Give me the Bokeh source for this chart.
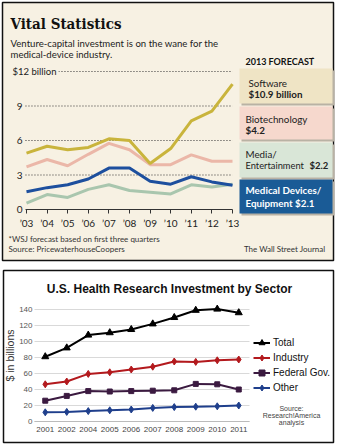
from bokeh.plotting import figure
from bokeh.layouts import column
from bokeh.models import (Range1d, FixedTicker, Label, BoxAnnotation, Legend, LegendItem)
from bokeh.embed import file_html
from bokeh.resources import INLINE

# ---------------- Top chart data (WSJ, $ billion) ----------------
years = [2003, 2004, 2005, 2006, 2007, 2008, 2009, 2010, 2011, 2012, 2013]
year_labels = ["’03", "’04", "’05", "’06", "’07", "’08", "’09", "’10", "’11", "’12", "’13"]
software = [4.9, 5.5, 5.2, 5.4, 6.15, 6.0, 4.0, 5.3, 7.7, 8.55, 10.9]
biotech = [3.7, 4.35, 3.8, 4.8, 5.75, 5.2, 3.9, 3.9, 4.75, 4.2, 4.2]
media = [0.55, 1.3, 1.05, 1.75, 2.15, 1.65, 1.5, 1.35, 2.15, 1.95, 2.2]
medical = [1.55, 1.9, 2.15, 2.65, 3.6, 3.6, 2.45, 2.2, 2.85, 2.4, 2.1]
top_yticks = [0, 3, 6, 9]
top_ygrid = [3, 6, 9, 12]

# ---------------- Bottom chart data ($ in billions) ----------------
bot_years = ["2001", "2002", "2004", "2005", "2006", "2007", "2008", "2009", "2010", "2011"]
total = [81, 92, 108, 111, 115, 122, 130, 139, 140.5, 136]
industry = [46.5, 50, 59.5, 61.5, 65, 68.5, 75, 74.5, 76.5, 77.5]
federal = [26, 32, 38, 37.5, 38, 38.5, 39, 47, 46.5, 40]
other = [11.5, 12, 13, 14, 15, 17, 18, 18.5, 19, 20]
bot_yticks = [0, 20, 40, 60, 80, 100, 120, 140]

CREAM = "#f7f1e3"
FONT = "Lato"
W = 339


def make_label(p, H, cx, cy, text, size, color="#222222", bold=False, font=FONT,
               align="left", baseline="middle", **kw):
    lab = Label(x=cx, y=H - cy, x_units="screen", y_units="screen", text=text,
                text_font=font, text_font_size=f"{size}px", text_color=color,
                text_font_style="bold" if bold else "normal",
                text_align=align, text_baseline=baseline, **kw)
    p.add_layout(lab)
    return lab


def make_box(p, H, x0, y0, x1, y1, fill=None, line=None, lw=1.0, level="annotation"):
    b = BoxAnnotation(left=x0, right=x1, top=H - y0, bottom=H - y1,
                      left_units="screen", right_units="screen",
                      top_units="screen", bottom_units="screen",
                      fill_color=fill, fill_alpha=1.0 if fill else 0.0,
                      line_color=line, line_width=lw, line_alpha=1.0 if line else 0.0,
                      level=level)
    p.add_layout(b)
    return b


def style_axis(ax, font, size, color, standoff):
    ax.major_label_text_font = font
    ax.major_label_text_font_size = f"{size}px"
    ax.major_label_text_color = color
    ax.major_label_standoff = standoff
    ax.minor_tick_line_color = None


# ====================== TOP FIGURE ======================
H1 = 264
XPX1, X0PIX1 = 20.6, 26.0      # pixels per year, pixel of first year
YPX1, Y0PIX1 = 11.5, 209.0     # pixels per $bn, pixel of zero
x_lo = years[0] - 0.05
p1 = figure(width=W, height=H1,
            x_range=Range1d(years[0] - X0PIX1 / XPX1, years[0] + (W - X0PIX1) / XPX1),
            y_range=Range1d(-(H1 - Y0PIX1) / YPX1, Y0PIX1 / YPX1),
            output_backend="svg", toolbar_location=None,
            min_border=0, background_fill_color="white", border_fill_color="white",
            outline_line_color=None)
p1.grid.visible = False

# panel background + border
make_box(p1, H1, 2, 2, 333, 260, fill=CREAM, line="#111111", lw=1.5, level="underlay")

p1.yaxis.fixed_location = x_lo
p1.yaxis.ticker = FixedTicker(ticks=top_yticks)
p1.yaxis.axis_line_color = None
p1.yaxis.major_tick_line_color = None
p1.yaxis.major_tick_out = 0
style_axis(p1.yaxis, FONT, 10, "#222222", 3)

p1.xaxis.fixed_location = 0
p1.xaxis.bounds = (x_lo, years[-1])
p1.xaxis.ticker = FixedTicker(ticks=years)
p1.xaxis.major_label_overrides = {y: l for y, l in zip(years, year_labels)}
p1.xaxis.axis_line_color = "#333333"
p1.xaxis.major_tick_line_color = "#333333"
p1.xaxis.major_tick_out = 4
p1.xaxis.major_tick_in = 0
style_axis(p1.xaxis, FONT, 10, "#222222", 3)

# dotted gridlines up to the last year
p1.segment(x0=[x_lo] * len(top_ygrid), x1=[years[-1]] * len(top_ygrid),
           y0=top_ygrid, y1=top_ygrid, line_color="#333333", line_dash="1 2", line_width=1)

p1.line(years, media, line_color="#a9c6ae", line_width=3)
p1.line(years, medical, line_color="#1d4f9e", line_width=3)
p1.line(years, biotech, line_color="#ebb7a8", line_width=3)
p1.line(years, software, line_color="#c9b43c", line_width=3)

# headline texts
make_label(p1, H1, 10, 23, "Vital Statistics", 15, color="#111111", bold=True,
           font="DejaVu Serif Condensed")
make_label(p1, H1, 10, 43, "Venture-capital investment is on the wane for the", 9.6)
make_label(p1, H1, 10, 53.5, "medical-device industry.", 9.6)
make_label(p1, H1, 10, 71, "$12 billion", 9.5, background_fill_color=CREAM, padding=2)

# forecast legend boxes
make_label(p1, H1, 245, 61, "2013 FORECAST", 9, bold=True, color="#111111")
make_label(p1, H1, 311, 58, "*", 6, color="#111111")

box_specs = [
    (68, 103, "#efe4c5"),
    (106, 139, "#f6d8cd"),
    (142, 177, "#d9e6d7"),
    (179, 213, "#1a5b96"),
]
for y0, y1, col in box_specs:
    make_box(p1, H1, 241, y0 + 2, 334, y1 + 2, fill="#b9b2a4")
    make_box(p1, H1, 239, y0, 332, y1, fill=col)

BS = 9.8
make_label(p1, H1, 248, 82, "Software", BS)
make_label(p1, H1, 248, 93, "$10.9 billion", BS, bold=True)
make_label(p1, H1, 245, 118, "Biotechnology", BS)
make_label(p1, H1, 245, 129.5, "$4.2", BS, bold=True)
make_label(p1, H1, 245, 153, "Media/", BS)
make_label(p1, H1, 245, 165, "Entertainment", 9.3)
make_label(p1, H1, 309, 165, "$2.2", 9.5, bold=True)
make_label(p1, H1, 245, 189, "Medical Devices/", 9.8, bold=True, color="white")
make_label(p1, H1, 245, 202.5, "Equipment $2.1", 9.8, bold=True, color="white")

# footer
make_label(p1, H1, 8, 238, "*WSJ forecast based on first three quarters", 8, color="#333333")
make_label(p1, H1, 8, 248, "Source: PricewaterhouseCoopers", 8, color="#333333")
make_label(p1, H1, 325, 248, "The Wall Street Journal", 8, color="#333333", align="right")

# ====================== BOTTOM FIGURE ======================
H2 = 182
BF = "Liberation Sans"
XPX2, X0PIX2 = 21.5, 44.75     # pixels per category, pixel of first category
YPX2, Y0PIX2 = 0.8, 157.0      # pixels per $bn, pixel of zero
idx = list(range(len(bot_years)))
p2 = figure(width=W, height=H2,
            x_range=Range1d(-X0PIX2 / XPX2, (W - X0PIX2) / XPX2),
            y_range=Range1d(-(H2 - Y0PIX2) / YPX2, Y0PIX2 / YPX2),
            output_backend="svg", toolbar_location=None,
            min_border=0, background_fill_color="white", border_fill_color="white",
            outline_line_color=None)
p2.grid.visible = False

xb_lo, xb_hi = idx[0] - 0.5, idx[-1] + 0.5
p2.segment(x0=[xb_lo] * len(bot_yticks), x1=[xb_hi] * len(bot_yticks),
           y0=bot_yticks, y1=bot_yticks, line_color="#d9d9d9", line_width=1)

p2.yaxis.fixed_location = xb_lo
p2.yaxis.ticker = FixedTicker(ticks=bot_yticks)
p2.yaxis.axis_line_color = None
p2.yaxis.major_tick_line_color = None
p2.yaxis.major_tick_out = 0
p2.yaxis.major_tick_in = 0
style_axis(p2.yaxis, BF, 8, "#555555", 2)
p2.yaxis.axis_label = "$ in billions"
p2.yaxis.axis_label_text_font = BF
p2.yaxis.axis_label_text_font_size = "10.5px"
p2.yaxis.axis_label_text_font_style = "normal"
p2.yaxis.axis_label_text_color = "#333333"
p2.yaxis.axis_label_standoff = 0

p2.xaxis.fixed_location = 0
p2.xaxis.bounds = (xb_lo, xb_hi)
p2.xaxis.ticker = FixedTicker(ticks=idx)
p2.xaxis.major_label_overrides = {i: y for i, y in zip(idx, bot_years)}
p2.xaxis.axis_line_color = "#bbbbbb"
p2.xaxis.major_tick_line_color = None
p2.xaxis.major_tick_out = 0
p2.xaxis.major_tick_in = 0
style_axis(p2.xaxis, BF, 8, "#444444", 5)

series = [
    ("Total", total, "#000000", "triangle", 7),
    ("Industry", industry, "#b3191d", "diamond", 7),
    ("Federal Gov.", federal, "#3b1a40", "square", 5),
    ("Other", other, "#1f3f8c", "diamond", 7),
]
items = []
for name, vals, col, mk, sz in series:
    ln = p2.line(idx, vals, line_color=col, line_width=2)
    sc = p2.scatter(idx, vals, marker=mk, size=sz, fill_color=col, line_color=col)
    items.append(LegendItem(label=name, renderers=[ln, sc]))

legend = Legend(items=items, location=(253, 51), orientation="vertical", padding=0, margin=0,
                spacing=0, glyph_width=17, glyph_height=15, label_height=15, label_standoff=3,
                label_text_font=BF, label_text_font_size="10px", label_text_color="#111111",
                border_line_color=None, background_fill_alpha=0)
p2.add_layout(legend)

make_label(p2, H2, 169, 24, "U.S. Health Research Investment by Sector", 12,
           color="#111111", bold=True, font=BF, align="center")
make_label(p2, H2, 291, 144, "Source:", 7, color="#444444", font=BF, align="center")
make_label(p2, H2, 291, 151, "Research!America", 7, color="#444444", font=BF, align="center")
make_label(p2, H2, 291, 158, "analysis", 7, color="#444444", font=BF, align="center")

make_box(p2, H2, 3, 6, 333, 178, fill=None, line="#111111", lw=1.5)

layout = column(p1, p2, spacing=0)
open("out.html", "w").write(file_html(layout, INLINE))
